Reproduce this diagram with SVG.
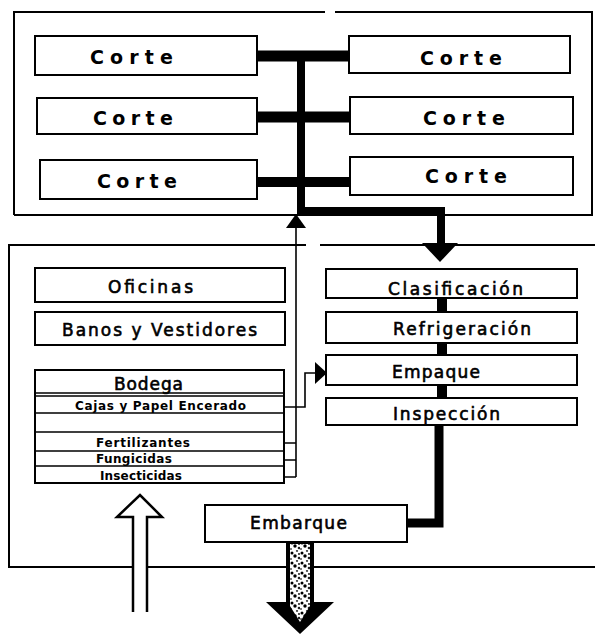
<svg xmlns="http://www.w3.org/2000/svg" width="595" height="634" viewBox="0 0 595 634">
<style>
.box{fill:#fff;stroke:#000;stroke-width:2}
.frame{fill:none;stroke:#000;stroke-width:2}
.thin{fill:none;stroke:#000;stroke-width:1.6}
.thick{fill:none;stroke:#000}
.t{font-family:"DejaVu Sans","Liberation Sans",sans-serif;fill:#000}
.corte{font-size:19px;font-weight:bold}
.lbl{font-size:17px;stroke:#000;stroke-width:0.6}
.sm{font-size:12px;font-weight:bold}
</style>
<defs>
<pattern id="mottle" width="10" height="10" patternUnits="userSpaceOnUse">
<rect width="10" height="10" fill="#fff"/>
<circle cx="2" cy="3" r="1.5" fill="#000"/>
<circle cx="7" cy="1" r="1.1" fill="#444"/>
<circle cx="5" cy="6" r="1.7" fill="#000"/>
<circle cx="9" cy="8" r="1.3" fill="#222"/>
<circle cx="1" cy="9" r="1" fill="#555"/>
<circle cx="9" cy="4" r="0.9" fill="#000"/>
</pattern>
</defs>

<g id="frames">
<path class="frame" d="M14,215 V12 H325 M335,12 H592 V215 H14"/>
<path class="frame" d="M595,245 H320 M306,245 H9 V567 H133 M147,567 H595"/>
</g>

<g id="connectors">
<path class="thick" stroke-width="8" d="M301,52 V211 H441 V244"/>
<polygon points="422,243 458,243 440,262" fill="#000"/>
<path class="thick" stroke-width="11" d="M257,56 H349"/>
<path class="thick" stroke-width="11" d="M257,117 H350"/>
<path class="thick" stroke-width="10" d="M257,182 H350"/>
<path class="thick" stroke-width="10" d="M442,298 V312 M442,343 V355 M442,385 V398"/>
<path class="thick" stroke-width="9" d="M439,425 V523 H407"/>
<polygon points="286,228 306,228 296,214" fill="#000"/>
<path class="thin" d="M296,228 V477"/>
<path class="thin" d="M284,407 H305 V373 H316"/>
<polygon points="315,362 327,373 315,384" fill="#000"/>
<path class="thin" d="M284,443 H296 M284,460 H296 M284,477 H296"/>
<polyline points="133,612 133,517 117,517 140,495 162,517 147,517 147,612" fill="#fff" stroke="#000" stroke-width="2.5"/>
<path d="M286,542 H314 V602 H334 L300,634 L266,602 H286 Z" fill="#000"/>
<path d="M290,544 H310 V606 L300,622 L290,606 Z" fill="url(#mottle)"/>
</g>

<g id="corte-l1"><rect class="box" x="35" y="36" width="222" height="39"/><text class="t corte" x="90" y="64" textLength="83" lengthAdjust="spacing">Corte</text></g>
<g id="corte-l2"><rect class="box" x="37" y="98" width="220" height="36"/><text class="t corte" x="93" y="125" textLength="80" lengthAdjust="spacing">Corte</text></g>
<g id="corte-l3"><rect class="box" x="40" y="160" width="217" height="39"/><text class="t corte" x="97" y="188" textLength="80" lengthAdjust="spacing">Corte</text></g>
<g id="corte-r1"><rect class="box" x="349" y="36" width="221" height="37"/><text class="t corte" x="420" y="65" textLength="82" lengthAdjust="spacing">Corte</text></g>
<g id="corte-r2"><rect class="box" x="350" y="97" width="223" height="37"/><text class="t corte" x="423" y="125" textLength="82" lengthAdjust="spacing">Corte</text></g>
<g id="corte-r3"><rect class="box" x="350" y="157" width="223" height="38"/><text class="t corte" x="425" y="183" textLength="82" lengthAdjust="spacing">Corte</text></g>

<g id="oficinas"><rect class="box" x="35" y="268" width="250" height="34"/><text class="t lbl" x="108" y="293" textLength="85" lengthAdjust="spacing">Oficinas</text></g>
<g id="banos"><rect class="box" x="35" y="312" width="250" height="33"/><text class="t lbl" x="62" y="336" textLength="195" lengthAdjust="spacing">Banos y Vestidores</text></g>

<g id="bodega">
<rect class="box" x="35" y="370" width="249" height="113"/>
<path class="thin" d="M35,393 H284 M35,396 H284 M35,413 H284 M35,432 H284 M35,451 H284 M35,466 H284"/>
<text class="t lbl" x="114" y="390" textLength="69" lengthAdjust="spacing">Bodega</text>
<text class="t sm" x="75" y="410" textLength="171" lengthAdjust="spacing">Cajas y Papel Encerado</text>
<text class="t sm" x="96" y="447" textLength="94" lengthAdjust="spacing">Fertilizantes</text>
<text class="t sm" x="96" y="463" textLength="76" lengthAdjust="spacing">Fungicidas</text>
<text class="t sm" x="100" y="480" textLength="82" lengthAdjust="spacing">Insecticidas</text>
</g>

<g id="clasificacion"><rect class="box" x="326" y="269" width="251" height="29"/><text class="t lbl" x="388" y="295" textLength="135" lengthAdjust="spacing">Clasificación</text></g>
<g id="refrigeracion"><rect class="box" x="326" y="312" width="251" height="31"/><text class="t lbl" x="393" y="335" textLength="138" lengthAdjust="spacing">Refrigeración</text></g>
<g id="empaque"><rect class="box" x="326" y="355" width="251" height="30"/><text class="t lbl" x="392" y="378" textLength="88" lengthAdjust="spacing">Empaque</text></g>
<g id="inspeccion"><rect class="box" x="326" y="398" width="251" height="27"/><text class="t lbl" x="393" y="420" textLength="107" lengthAdjust="spacing">Inspección</text></g>
<g id="embarque"><rect class="box" x="205" y="505" width="202" height="37"/><text class="t lbl" x="250" y="529" textLength="97" lengthAdjust="spacing">Embarque</text></g>
</svg>
